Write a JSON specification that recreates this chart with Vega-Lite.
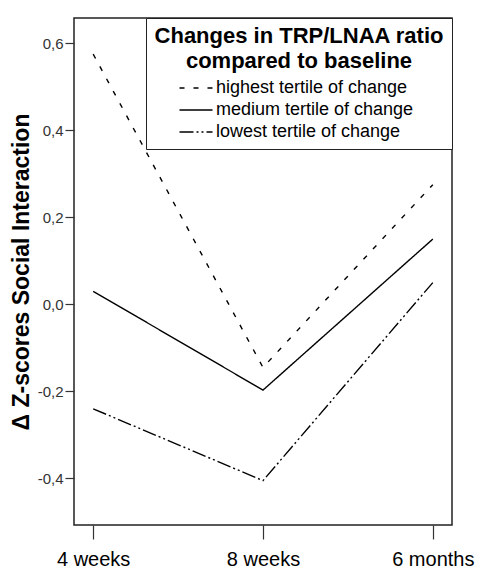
{
  "$schema": "https://vega.github.io/schema/vega-lite/v6.json",
  "width": 378,
  "height": 507,
  "autosize": {"type": "none"},
  "padding": {"left": 74, "top": 18, "right": 33, "bottom": 44},
  "background": "white",
  "config": {"view": {"stroke": "#222", "strokeWidth": 1.5}, "font": "Liberation Sans"},
  "data": {"values": [
    {"time": "4 weeks", "group": "highest tertile of change", "value": 0.575},
    {"time": "8 weeks", "group": "highest tertile of change", "value": -0.145},
    {"time": "6 months", "group": "highest tertile of change", "value": 0.275},
    {"time": "4 weeks", "group": "medium tertile of change", "value": 0.03},
    {"time": "8 weeks", "group": "medium tertile of change", "value": -0.197},
    {"time": "6 months", "group": "medium tertile of change", "value": 0.15},
    {"time": "4 weeks", "group": "lowest tertile of change", "value": -0.24},
    {"time": "8 weeks", "group": "lowest tertile of change", "value": -0.405},
    {"time": "6 months", "group": "lowest tertile of change", "value": 0.05}
  ]},
  "mark": {"type": "line", "color": "black", "strokeWidth": 1.4},
  "encoding": {
    "x": {
      "field": "time", "type": "ordinal", "sort": ["4 weeks", "8 weeks", "6 months"],
      "scale": {"type": "point", "padding": 0.113},
      "axis": {"title": null, "labelAngle": 0, "domain": false, "grid": false, "tickSize": 14, "tickColor": "#333", "tickWidth": 1.2, "labelFontSize": 20, "labelColor": "black", "labelPadding": 10}
    },
    "y": {
      "field": "value", "type": "quantitative",
      "scale": {"domain": [-0.507, 0.658], "nice": false, "zero": false},
      "axis": {
        "title": "Δ Z-scores Social Interaction", "titleFontSize": 23, "titleFontWeight": "bold", "titleColor": "black", "titlePadding": 4,
        "values": [-0.4, -0.2, 0, 0.2, 0.4, 0.6],
        "labelExpr": "replace(replace(format(datum.value,'.1f'),'.',','),'\u2212','-')",
        "labelFontSize": 15, "labelColor": "#333", "tickSize": 9, "tickColor": "#333", "tickWidth": 1.2, "labelPadding": 2, "domain": false, "grid": false
      }
    },
    "strokeDash": {
      "field": "group", "type": "nominal",
      "scale": {"domain": ["highest tertile of change", "medium tertile of change", "lowest tertile of change"], "range": [[5, 9], [1, 0], [14, 3, 2, 3, 2, 3]]},
      "legend": {
        "orient": "top-right", "offset": 0,
        "title": ["Changes in TRP/LNAA ratio", "compared to baseline"],
        "titleFontSize": 22, "titleFontWeight": "bold", "titleColor": "black", "titleAnchor": "middle", "titleAlign": "center", "titleLineHeight": 25, "titlePadding": 2, "titleLimit": 0,
        "labelFontSize": 18, "labelColor": "black", "labelLimit": 0,
        "symbolType": "M-1.375,0H1.375", "symbolSize": 576, "symbolStrokeWidth": 1.4, "symbolStrokeColor": "black", "symbolOffset": -1, "labelOffset": 7,
        "rowPadding": 0, "padding": 8, "strokeColor": "#222", "fillColor": "white", "cornerRadius": 0
      }
    }
  }
}
